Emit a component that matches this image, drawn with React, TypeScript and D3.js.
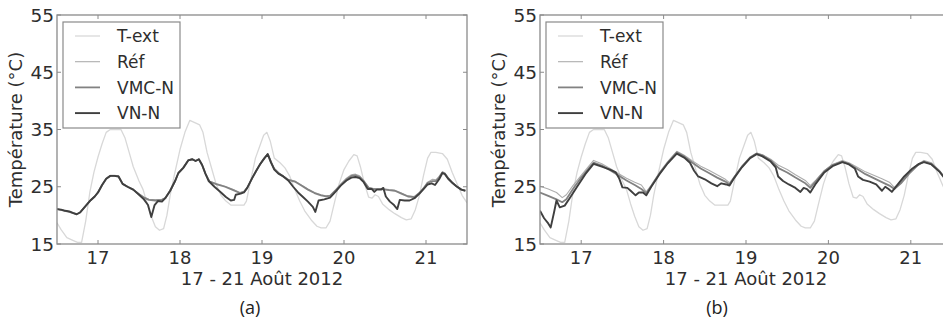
import React from "react";
import * as d3 from "d3";

// [jour, température]
const tExt: [number, number][] = [
  [16.5, 18.7], [16.55, 17.5], [16.62, 16.1], [16.7, 15.6], [16.75, 15.3], [16.8, 15.3], [16.85, 19], [16.9, 24],
  [16.95, 27.5], [17.0, 30.2], [17.05, 32.5], [17.1, 34.5], [17.15, 35.0], [17.22, 35.0], [17.28, 35.0], [17.33, 33.5],
  [17.38, 31], [17.43, 28.5], [17.5, 26], [17.55, 24.5], [17.6, 22], [17.65, 19.8], [17.7, 18], [17.75, 17.4],
  [17.8, 17.7], [17.84, 20], [17.88, 23.5], [17.93, 27], [18.0, 31.5], [18.06, 34.5], [18.12, 36.6], [18.18, 36.2],
  [18.24, 35.8], [18.28, 34.5], [18.33, 31], [18.38, 28.5], [18.44, 25.5], [18.5, 23.5], [18.56, 22.5], [18.62, 21.8],
  [18.7, 21.8], [18.78, 21.8], [18.81, 22.5], [18.86, 26], [18.92, 30], [18.97, 32], [19.02, 34], [19.06, 34.5],
  [19.1, 33], [19.15, 30], [19.22, 29.2], [19.28, 28.3], [19.34, 26.8], [19.4, 24.5], [19.46, 22.5], [19.52, 20.8],
  [19.6, 19.2], [19.67, 18.1], [19.72, 17.8], [19.78, 17.8], [19.83, 19], [19.88, 22], [19.94, 25.5], [20.0, 28],
  [20.06, 29.5], [20.12, 30.6], [20.16, 30.4], [20.2, 28.5], [20.25, 25.5], [20.3, 23.2], [20.34, 23], [20.38, 23.6],
  [20.42, 23.3], [20.47, 22], [20.55, 21], [20.62, 20.3], [20.7, 19.6], [20.76, 19.2], [20.82, 19.4], [20.87, 21],
  [20.92, 23.5], [20.97, 27], [21.02, 30], [21.06, 31], [21.12, 31], [21.2, 30.8], [21.26, 29.8], [21.32, 27.5],
  [21.38, 25.5], [21.44, 23.5], [21.5, 22.2],
];

// (a)
const refA: [number, number][] = [
  [16.5, 21.1], [16.6, 20.8], [16.7, 20.4], [16.74, 20.2], [16.78, 20.5], [16.84, 21.5], [16.9, 22.5], [16.96, 23.3],
  [17.0, 24], [17.05, 25.3], [17.1, 26.4], [17.15, 27.0], [17.2, 27.0], [17.25, 26.9], [17.3, 25.6], [17.36, 25],
  [17.43, 24.5], [17.5, 23.8], [17.56, 23.2], [17.62, 22.8], [17.7, 22.7], [17.78, 22.8], [17.82, 23.1], [17.88, 24.3],
  [17.94, 26], [17.98, 27.4], [18.04, 28.3], [18.1, 29.7], [18.15, 29.9], [18.19, 29.6], [18.23, 29.8], [18.27, 28.8],
  [18.31, 27.3], [18.36, 26.0], [18.45, 25.5], [18.55, 25.1], [18.65, 24.5], [18.73, 24.0], [18.78, 24.2], [18.82, 24.9],
  [18.88, 26.5], [18.93, 27.8], [18.98, 29], [19.03, 30], [19.07, 30.7], [19.11, 29.4], [19.15, 28.2], [19.2, 27.5],
  [19.26, 26.9], [19.32, 26.3], [19.4, 26.0], [19.48, 25.3], [19.56, 24.6], [19.64, 24.0], [19.72, 23.6], [19.78, 23.4],
  [19.83, 23.5], [19.9, 24.5], [19.96, 25.5], [20.03, 26.5], [20.09, 27.1], [20.14, 27.2], [20.19, 26.9], [20.24, 26.1],
  [20.3, 24.9], [20.36, 24.7], [20.45, 24.7], [20.55, 24.5], [20.62, 24.4], [20.7, 23.9], [20.78, 23.4], [20.86, 23.3],
  [20.92, 24.0], [20.97, 24.8], [21.02, 25.8], [21.08, 26.3], [21.12, 26.2], [21.16, 26.8], [21.2, 27.6], [21.23, 27.4],
  [21.27, 26.6], [21.32, 25.8], [21.37, 25.2], [21.43, 24.6], [21.48, 24.4],
];

const vmcA: [number, number][] = [
  [16.5, 21.1], [16.6, 20.8], [16.7, 20.4], [16.74, 20.2], [16.78, 20.5], [16.84, 21.5], [16.9, 22.5], [16.96, 23.3],
  [17.0, 24], [17.05, 25.3], [17.1, 26.4], [17.15, 26.9], [17.2, 26.9], [17.25, 26.8], [17.3, 25.5], [17.36, 25],
  [17.43, 24.5], [17.5, 23.7], [17.56, 23.1], [17.62, 22.7], [17.7, 22.6], [17.78, 22.7], [17.82, 23.0], [17.88, 24.3],
  [17.94, 26], [17.98, 27.4], [18.04, 28.3], [18.1, 29.6], [18.15, 29.8], [18.19, 29.5], [18.23, 29.8], [18.27, 28.8],
  [18.31, 27.3], [18.36, 25.9], [18.45, 25.4], [18.55, 25.0], [18.65, 24.4], [18.73, 23.9], [18.78, 24.1], [18.82, 24.8],
  [18.88, 26.5], [18.93, 27.8], [18.98, 29], [19.03, 30], [19.07, 30.7], [19.11, 29.3], [19.15, 28.1], [19.2, 27.4],
  [19.26, 26.8], [19.32, 26.2], [19.4, 25.9], [19.48, 25.2], [19.56, 24.5], [19.64, 23.9], [19.72, 23.5], [19.78, 23.3],
  [19.83, 23.4], [19.9, 24.4], [19.96, 25.3], [20.03, 26.3], [20.09, 26.9], [20.14, 27.0], [20.19, 26.7], [20.24, 26.0],
  [20.3, 24.8], [20.36, 24.6], [20.45, 24.6], [20.55, 24.4], [20.62, 24.3], [20.7, 23.8], [20.78, 23.3], [20.86, 23.2],
  [20.92, 23.9], [20.97, 24.7], [21.02, 25.7], [21.08, 26.0], [21.12, 26.0], [21.16, 26.6], [21.2, 27.5], [21.23, 27.3],
  [21.27, 26.5], [21.32, 25.7], [21.37, 25.1], [21.43, 24.5], [21.48, 24.3],
];

const vnA: [number, number][] = [
  [16.5, 21.1], [16.55, 21.0], [16.6, 20.8], [16.65, 20.7], [16.7, 20.4], [16.74, 20.2], [16.78, 20.5], [16.84, 21.5],
  [16.9, 22.5], [16.96, 23.3], [17.0, 24], [17.05, 25.3], [17.1, 26.4], [17.15, 26.9], [17.2, 26.9], [17.25, 26.8],
  [17.3, 25.5], [17.36, 25], [17.43, 24.5], [17.5, 23.6], [17.56, 22.8], [17.61, 21.8], [17.65, 19.7], [17.69, 21.8],
  [17.73, 22.5], [17.78, 22.4], [17.82, 23.0], [17.88, 24.3], [17.94, 26], [17.98, 27.4], [18.04, 28.3], [18.1, 29.6],
  [18.15, 29.8], [18.19, 29.5], [18.23, 29.8], [18.27, 28.8], [18.31, 27.3], [18.35, 26], [18.42, 25], [18.5, 24],
  [18.56, 23.2], [18.62, 22.6], [18.66, 22.7], [18.68, 23.6], [18.74, 23.8], [18.78, 24], [18.82, 24.8], [18.88, 26.5],
  [18.93, 27.8], [18.98, 29], [19.03, 30], [19.07, 30.7], [19.11, 29.2], [19.15, 28], [19.2, 27.3], [19.26, 26.8],
  [19.32, 26.1], [19.38, 25], [19.44, 24], [19.5, 23.2], [19.56, 22.4], [19.62, 21.5], [19.65, 20.6], [19.69, 22.6],
  [19.76, 22.8], [19.83, 23.1], [19.9, 24.2], [19.96, 25.2], [20.03, 26.1], [20.09, 26.6], [20.14, 26.7], [20.19, 26.5],
  [20.24, 25.8], [20.29, 24.6], [20.34, 24.6], [20.37, 24.1], [20.4, 24.5], [20.45, 24.5], [20.48, 24.8], [20.51, 23.3],
  [20.56, 22.4], [20.61, 21.8], [20.65, 21.1], [20.68, 22.7], [20.74, 22.6], [20.8, 22.6], [20.86, 23], [20.92, 23.8],
  [20.97, 24.6], [21.02, 25.4], [21.07, 25.6], [21.11, 25.3], [21.16, 26.3], [21.2, 27.4], [21.23, 27.2], [21.27, 26.4],
  [21.32, 25.7], [21.37, 25.1], [21.43, 24.5], [21.48, 24.3],
];

// (b)
const refB: [number, number][] = [
  [16.5, 25.1], [16.6, 24.6], [16.7, 24.0], [16.77, 23.1], [16.82, 23.6], [16.9, 25.2], [17.0, 27.0], [17.08, 28.4],
  [17.15, 29.6], [17.25, 29.0], [17.35, 28.2], [17.45, 27.3], [17.55, 26.5], [17.65, 25.8], [17.73, 25.3], [17.79, 24.1],
  [17.85, 25.3], [17.95, 27.5], [18.05, 29.4], [18.16, 31.2], [18.25, 30.5], [18.35, 29.5], [18.45, 28.6], [18.55, 27.9],
  [18.65, 27.1], [18.75, 26.3], [18.8, 25.7], [18.86, 26.8], [18.95, 28.6], [19.05, 30.2], [19.13, 30.9], [19.2, 30.6],
  [19.3, 29.8], [19.4, 28.7], [19.5, 28.0], [19.6, 27.1], [19.72, 26.1], [19.78, 25.2], [19.85, 26.2], [19.95, 27.8],
  [20.05, 28.9], [20.17, 29.6], [20.25, 29.2], [20.35, 28.4], [20.45, 27.6], [20.55, 27.0], [20.65, 26.4], [20.74, 25.8],
  [20.8, 24.9], [20.88, 25.8], [20.98, 27.5], [21.08, 28.9], [21.16, 29.6], [21.25, 29.2], [21.35, 27.8], [21.42, 26.5],
  [21.5, 25.5],
];

const vmcB: [number, number][] = [
  [16.5, 24.0], [16.6, 23.4], [16.7, 22.8], [16.77, 22.3], [16.82, 22.8], [16.9, 24.6], [17.0, 26.6], [17.08, 28.0],
  [17.15, 29.2], [17.25, 28.7], [17.35, 27.9], [17.45, 27.0], [17.55, 26.1], [17.65, 25.3], [17.73, 24.6], [17.79, 23.9],
  [17.85, 25.1], [17.95, 27.3], [18.05, 29.2], [18.16, 31.0], [18.25, 30.3], [18.35, 29.2], [18.45, 28.2], [18.55, 27.4],
  [18.65, 26.6], [18.75, 25.9], [18.8, 25.4], [18.86, 26.7], [18.95, 28.5], [19.05, 30.1], [19.13, 30.8], [19.2, 30.5],
  [19.3, 29.6], [19.4, 28.2], [19.5, 27.5], [19.6, 26.6], [19.72, 25.6], [19.78, 24.8], [19.85, 26.0], [19.95, 27.7],
  [20.05, 28.8], [20.17, 29.4], [20.25, 29.0], [20.35, 28.1], [20.45, 27.2], [20.55, 26.5], [20.65, 25.8], [20.74, 25.2],
  [20.8, 24.6], [20.88, 25.6], [20.98, 27.3], [21.08, 28.7], [21.16, 29.4], [21.25, 29.0], [21.35, 27.7], [21.42, 26.4],
  [21.5, 25.4],
];

const vnB: [number, number][] = [
  [16.5, 20.8], [16.55, 19.5], [16.6, 18.6], [16.63, 17.9], [16.67, 20.5], [16.7, 22.6], [16.74, 21.4], [16.8, 21.7],
  [16.86, 23.0], [16.95, 25.0], [17.05, 27.2], [17.15, 29.0], [17.25, 28.5], [17.35, 28.0], [17.42, 27.5], [17.46, 26.5],
  [17.5, 24.9], [17.56, 24.8], [17.6, 24.3], [17.66, 23.5], [17.7, 24.0], [17.75, 24.0], [17.79, 23.5], [17.85, 25.0],
  [17.95, 27.2], [18.05, 29.1], [18.16, 30.8], [18.25, 30.1], [18.32, 29.2], [18.37, 27.8], [18.42, 26.8], [18.5, 26.3],
  [18.58, 25.6], [18.65, 25.1], [18.7, 25.6], [18.76, 25.4], [18.8, 25.2], [18.86, 26.6], [18.95, 28.4], [19.05, 30.0],
  [19.13, 30.7], [19.2, 30.3], [19.3, 29.4], [19.36, 28.4], [19.39, 26.8], [19.45, 26.0], [19.52, 25.4], [19.6, 24.8],
  [19.66, 24.1], [19.7, 24.8], [19.74, 24.6], [19.78, 24.0], [19.85, 25.6], [19.95, 27.5], [20.05, 28.6], [20.17, 29.3],
  [20.25, 28.9], [20.32, 28.2], [20.36, 26.8], [20.42, 26.2], [20.5, 25.9], [20.58, 25.4], [20.65, 24.3], [20.69, 25.0],
  [20.73, 24.6], [20.77, 24.1], [20.83, 25.2], [20.92, 26.8], [21.02, 28.2], [21.1, 29.0], [21.16, 29.3], [21.25, 28.9],
  [21.35, 27.6], [21.42, 26.3], [21.5, 25.3],
];

const xTicks = [17, 18, 19, 20, 21];
const yTicks = [15, 25, 35, 45, 55];
const legendNames = ["T-ext", "Réf", "VMC-N", "VN-N"];
const colors = ["#d8d8d8", "#adadad", "#828282", "#3f3f3f"];
const widths = [1.3, 1.1, 1.8, 1.9];

const W = 943;
const H = 322;
const top = 15;
const bottom = 244;
const font = "DejaVu Sans, sans-serif";

type PanelProps = {
  left: number;
  right: number;
  series: [number, number][][];
  tag: string;
  tagX: number;
  id: string;
};

const Panel = ({ left, right, series, tag, tagX, id }: PanelProps) => {
  const x = d3.scaleLinear().domain([16.5, 21.5]).range([left, right]);
  const y = d3.scaleLinear().domain([15, 55]).range([bottom, top]);
  const line = d3.line<[number, number]>().x(d => x(d[0])).y(d => y(d[1]));
  const mid = (left + right) / 2;
  const frame = "#8a8a8a";
  const lx = left + 6;

  return (
    <g>
      <defs>
        <clipPath id={id}>
          <rect x={left} y={top} width={right - left} height={bottom - top} />
        </clipPath>
      </defs>
      <g clipPath={`url(#${id})`}>
        {series.map((s, i) => (
          <path key={i} d={line(s) || ""} fill="none" stroke={colors[i]} strokeWidth={widths[i]} strokeLinejoin="round" />
        ))}
      </g>
      <rect x={left} y={top} width={right - left} height={bottom - top} fill="none" stroke={frame} strokeWidth={1.3} />
      {xTicks.map(t => (
        <g key={t}>
          <line x1={x(t)} x2={x(t)} y1={bottom} y2={bottom - 4} stroke={frame} />
          <line x1={x(t)} x2={x(t)} y1={top} y2={top + 4} stroke={frame} />
          <text x={x(t)} y={264} textAnchor="middle" fontSize={18} fontFamily={font} fill="#2e2e2e">{t}</text>
        </g>
      ))}
      {yTicks.map(t => (
        <g key={t}>
          <line x1={left} x2={left + 4} y1={y(t)} y2={y(t)} stroke={frame} />
          <line x1={right} x2={right - 4} y1={y(t)} y2={y(t)} stroke={frame} />
          <text x={left - 3} y={y(t)} dy="0.36em" textAnchor="end" fontSize={18.5} fontFamily={font} fill="#2e2e2e">{t}</text>
        </g>
      ))}
      <text transform={`translate(${left - 35},${(top + bottom) / 2}) rotate(-90)`} textAnchor="middle" fontSize={18} fontFamily={font} fill="#2e2e2e">
        Température (°C)
      </text>
      <text x={mid} y={285} textAnchor="middle" fontSize={18} fontFamily={font} fill="#2e2e2e">17 - 21 Août 2012</text>
      <text x={tagX} y={314} textAnchor="middle" fontSize={18} fontFamily="Open Sans, sans-serif" fill="#222">{tag}</text>

      <rect x={lx} y={22} width={117} height={106} fill="#fff" stroke={frame} strokeWidth={1.2} />
      {legendNames.map((n, i) => (
        <g key={n}>
          <line x1={lx + 12} x2={lx + 37} y1={36 + i * 25.7} y2={36 + i * 25.7} stroke={colors[i]} strokeWidth={widths[i]} />
          <text x={lx + 54} y={36 + i * 25.7} dy="0.36em" fontSize={17} fontFamily={font} fill="#2e2e2e">{n}</text>
        </g>
      ))}
    </g>
  );
};

export default function App() {
  return (
    <svg width={W} height={H} style={{ position: "absolute", left: 0, top: 0, background: "#fff" }}>
      <rect width={W} height={H} fill="#fff" />
      <Panel left={57} right={467} series={[tExt, refA, vmcA, vnA]} tag="(a)" tagX={250} id="clipA" />
      <Panel left={540} right={952} series={[tExt, refB, vmcB, vnB]} tag="(b)" tagX={717} id="clipB" />
    </svg>
  );
}
